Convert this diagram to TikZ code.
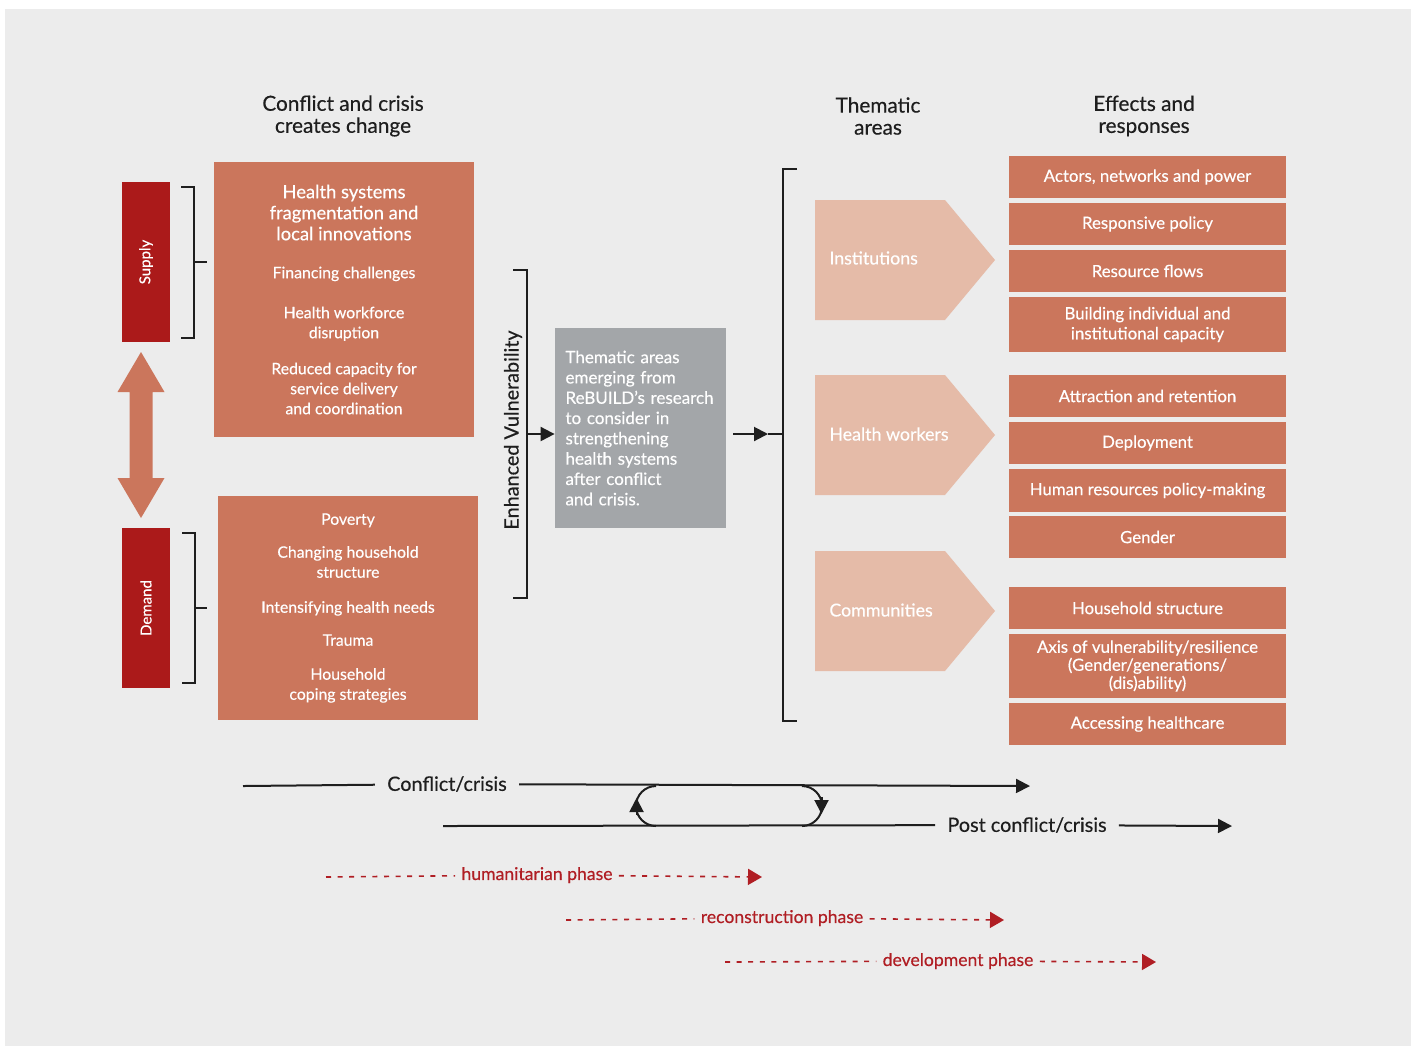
\documentclass[tikz,border=0pt]{standalone}
\usepackage{fontspec}
\setmainfont{Lato}[FakeBold=0.35]
\usetikzlibrary{arrows.meta}
\definecolor{fond}{HTML}{ECECEC}
\definecolor{saumon}{HTML}{CB765C}
\definecolor{rougef}{HTML}{AB1A1A}
\definecolor{rose}{HTML}{E5BBA8}
\definecolor{gris}{HTML}{A3A6A9}
\definecolor{rouge}{HTML}{B01E24}
\definecolor{trait}{HTML}{1E1E1E}
\newcommand{\grand}[1]{{\fontsize{9.2}{10.5}\selectfont #1}}
\begin{document}
\begin{tikzpicture}[x=0.5pt,y=-0.5pt]
    \tikzset{block/.style={fill=saumon, text=white, align=center, inner sep=0pt, font=\fontsize{7.9}{10}\selectfont}}
    \tikzset{tag/.style={fill=rougef, text=white, inner sep=0pt, minimum width=80pt, minimum height=24pt, font=\fontsize{7.5}{9}\selectfont}}
    \tikzset{effect/.style={block, minimum width=138.5pt, minimum height=21pt, font=\fontsize{8.4}{10}\selectfont}}
    \tikzset{theme/.style={anchor=west, text=white, inner sep=0pt, font=\fontsize{8.9}{10}\selectfont}}
    \tikzset{heading/.style={text=trait, align=center, font=\fontsize{10.4}{11}\selectfont}}
    \tikzset{bracket/.style={trait, line width=1pt}}
    \tikzset{link/.style={trait, line width=1pt, -{Triangle[length=7pt,width=7pt]}}}
    \tikzset{phase/.style={rouge, line width=0.8pt, dash pattern=on 2.5pt off 3.3pt}}
    \tikzset{phaselabel/.style={text=rouge, inner xsep=3pt, font=\fontsize{8.8}{10}\selectfont}}
    \useasboundingbox (0,0) rectangle (1416,1046);
    \fill[white] (0,0) rectangle (1416,1046);
    \fill[fond] (5,9) rectangle (1411,1046);
    % headings
    \node[heading] (head1) at (343,116) {Conflict and crisis\\creates change};
    \node[heading] (head2) at (878,116) {Thematic\\areas};
    \node[heading] (head3) at (1144,116) {Effects and\\responses};
    % supply and demand
    \node[tag, rotate=90] (supply) at (146,262) {Supply};
    \node[tag, rotate=90] (demand) at (146,608) {Demand};
    \fill[saumon] (141,352) -- (164.5,392) -- (152.5,392) -- (152.5,478) -- (164.5,478)
      -- (141,518) -- (117.5,478) -- (129.5,478) -- (129.5,392) -- (117.5,392) -- cycle;
    \draw[bracket] (181,187) -- (194,187) -- (194,338) -- (181,338);
    \draw[bracket] (194,262) -- (207,262);
    \draw[bracket] (182,533) -- (195,533) -- (195,683) -- (182,683);
    \draw[bracket] (195,608) -- (207,608);
    \node[block, minimum width=130pt, minimum height=137.5pt] (changes) at (344,299.5)
      {\grand{Health systems}\\[0.5pt]\grand{fragmentation and}\\[0.5pt]\grand{local innovations}\\[9pt]
       Financing challenges\\[10pt]
       Health workforce\\disruption\\[8pt]
       Reduced capacity for\\service delivery\\and coordination};
    \node[block, minimum width=130pt, minimum height=112pt] (needs) at (348,608)
      {Poverty\\[6.5pt]
       Changing household\\structure\\[7.5pt]
       Intensifying health needs\\[6.5pt]
       Trauma\\[7pt]
       Household\\coping strategies};
    % enhanced vulnerability
    \draw[bracket] (513,270) -- (527,270) -- (527,598) -- (513,598);
    \node[rotate=90, text=trait, font=\fontsize{9.9}{11}\selectfont] (vuln) at (513,430) {Enhanced Vulnerability};
    \node[fill=gris, text=white, align=left, text width=75pt, minimum width=85.5pt, minimum height=100pt,
      inner sep=0pt, font=\fontsize{8.5}{10.15}\selectfont] (grey) at (640.5,428)
      {Thematic areas\\emerging from\\ReBUILD's research\\to consider in\\strengthening\\health systems\\after conflict\\and crisis.};
    \coordinate (ev) at (527,434);
    \draw[link] (ev) -- (ev -| grey.west);
    \coordinate (out) at (733,434);
    \coordinate (tip) at (768,434);
    \coordinate (bk) at (783,434);
    \draw[link] (out) -- (tip);
    \draw[bracket] (tip) -- (bk);
    \draw[bracket] (797,169) -- (783,169) -- (783,721) -- (797,721);
    % thematic areas
    \fill[rose] (815,200) -- (945,200) -- (995,260) -- (945,320) -- (815,320) -- cycle;
    \fill[rose] (815,375) -- (945,375) -- (995,435) -- (945,495) -- (815,495) -- cycle;
    \fill[rose] (815,551) -- (945,551) -- (995,611) -- (945,671) -- (815,671) -- cycle;
    \node[theme] (inst) at (829,258) {Institutions};
    \node[theme] (workers) at (829,434) {Health workers};
    \node[theme] (comm) at (829,610) {Communities};
    % effects and responses
    \node[effect] (actors) at (1147.5,177) {Actors, networks and power};
    \node[effect] (policy) at (1147.5,224) {Responsive policy};
    \node[effect] (flows) at (1147.5,271) {Resource flows};
    \node[effect, minimum height=27.5pt] (capacity) at (1147.5,324.5) {Building individual and\\institutional capacity};
    \node[effect] (retention) at (1147.5,396) {Attraction and retention};
    \node[effect] (deploy) at (1147.5,443) {Deployment};
    \node[effect, minimum height=21.5pt] (hr) at (1147.5,490.5) {Human resources policy-making};
    \node[effect] (gender) at (1147.5,537) {Gender};
    \node[effect] (household) at (1147.5,608) {Household structure};
    \node[effect, minimum height=32pt, font=\fontsize{8.4}{9}\selectfont] (axis) at (1147.5,666) {Axis of vulnerability/resilience\\(Gender/generations/\\(dis)ability)};
    \node[effect] (access) at (1147.5,724) {Accessing healthcare};
    % timeline
    \coordinate (cstart) at (243,786);
    \coordinate (cend) at (1030,786);
    \node[text=trait, inner xsep=6pt, font=\fontsize{9.9}{11}\selectfont] (crisis) at (447,784) {Conflict/crisis};
    \draw[bracket] (cstart) -- (crisis);
    \draw[link] (crisis) -- (cend);
    \coordinate (pstart) at (443,826);
    \coordinate (pend) at (1232,826);
    \node[text=trait, inner xsep=6pt, font=\fontsize{9.9}{11}\selectfont] (post) at (1027,825) {Post conflict/crisis};
    \draw[bracket] (pstart) -- (post);
    \draw[link] (post) -- (pend);
    % loop between the two lines
    \coordinate (loopa) at (656,826);
    \coordinate (loopb) at (802,786);
    \draw[bracket] (loopa) arc[start angle=90, end angle=270, radius=20];
    \draw[bracket] (loopb) arc[start angle=-90, end angle=90, radius=20];
    \draw[link] (636.5,815) -- (636.5,798);
    \draw[link] (821.5,797) -- (821.5,814);
    % phases
    \coordinate (hstart) at (326,877);
    \coordinate (hend) at (762,877);
    \node[phaselabel] (human) at (537,875) {humanitarian phase};
    \draw[phase] (hstart) -- (human);
    \draw[phase, -{Triangle[length=7pt,width=8pt]}] (human) -- (hend);
    \coordinate (rstart) at (566,920);
    \coordinate (rend) at (1004,920);
    \node[phaselabel] (recon) at (782,918) {reconstruction phase};
    \draw[phase] (rstart) -- (recon);
    \draw[phase, -{Triangle[length=7pt,width=8pt]}] (recon) -- (rend);
    \coordinate (dstart) at (725,962);
    \coordinate (dend) at (1156,962);
    \node[phaselabel] (devel) at (958,961) {development phase};
    \draw[phase] (dstart) -- (devel);
    \draw[phase, -{Triangle[length=7pt,width=8pt]}] (devel) -- (dend);
  \end{tikzpicture}
\end{document}
